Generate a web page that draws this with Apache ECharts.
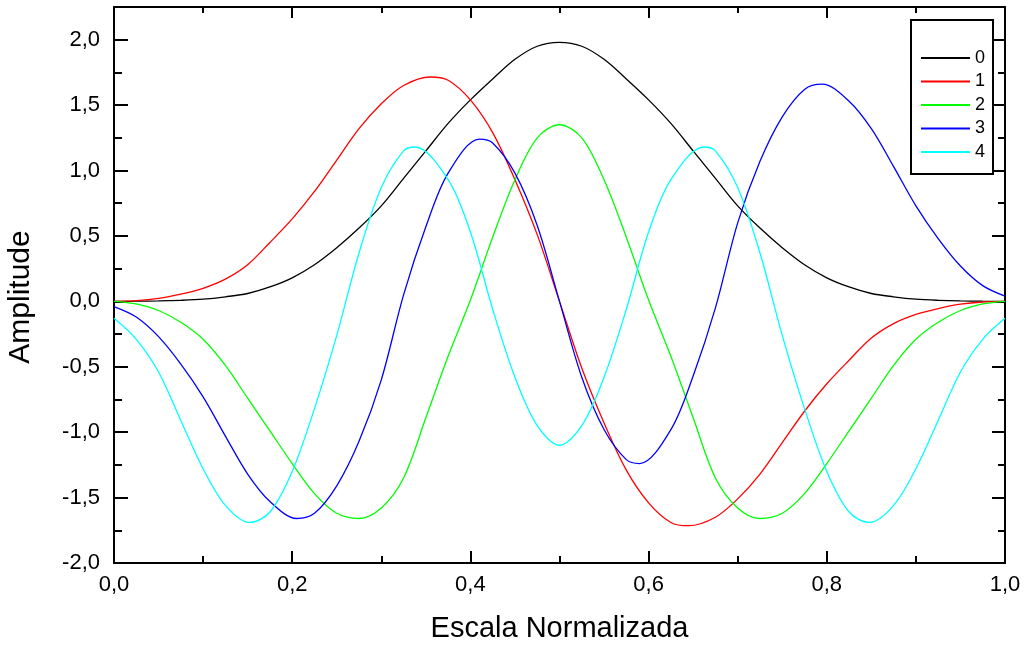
<!DOCTYPE html>
<html>
<head>
<meta charset="utf-8">
<title>Amplitude x Escala Normalizada</title>
<script src="https://cdn.jsdelivr.net/npm/echarts@6/dist/echarts.min.js"></script>
<style>
    html, body { margin: 0; padding: 0; background: #fff; }
    #grafico { width: 1024px; height: 646px; }
</style>
</head>
<body>
<div id="grafico"></div>
<script>
// escala normalizada (passo 0,025); as curvas 1, 3 e 4 trazem os picos lidos no lugar do ponto vizinho
const escala = [0, 0.025, 0.05, 0.075, 0.1, 0.125, 0.15, 0.175, 0.2, 0.225, 0.25, 0.275, 0.3, 0.325, 0.35, 0.375, 0.4, 0.425, 0.45, 0.475, 0.5,
    0.525, 0.55, 0.575, 0.6, 0.625, 0.65, 0.675, 0.7, 0.725, 0.75, 0.775, 0.8, 0.825, 0.85, 0.875, 0.9, 0.925, 0.95, 0.975, 1];
const escala1 = [0, 0.025, 0.05, 0.075, 0.1, 0.125, 0.15, 0.175, 0.2, 0.225, 0.25, 0.275, 0.3, 0.325, 0.355, 0.375, 0.4, 0.425, 0.45, 0.475, 0.5,
    0.525, 0.55, 0.575, 0.6, 0.625, 0.645, 0.675, 0.7, 0.725, 0.75, 0.775, 0.8, 0.825, 0.85, 0.875, 0.9, 0.925, 0.95, 0.975, 1];
const escala3 = [0, 0.025, 0.05, 0.075, 0.1, 0.125, 0.15, 0.175, 0.205, 0.225, 0.25, 0.275, 0.3, 0.325, 0.35, 0.375, 0.41, 0.425, 0.45, 0.475, 0.5,
    0.525, 0.55, 0.575, 0.59, 0.625, 0.65, 0.675, 0.7, 0.725, 0.75, 0.775, 0.795, 0.825, 0.85, 0.875, 0.9, 0.925, 0.95, 0.975, 1];
const escala4 = [0, 0.025, 0.05, 0.075, 0.1, 0.125, 0.152, 0.175, 0.2, 0.225, 0.25, 0.275, 0.3, 0.325, 0.338, 0.375, 0.4, 0.425, 0.45, 0.475, 0.5,
    0.525, 0.55, 0.575, 0.6, 0.625, 0.662, 0.675, 0.7, 0.725, 0.75, 0.775, 0.8, 0.825, 0.848, 0.875, 0.9, 0.925, 0.95, 0.975, 1];

const nomes = ["0", "1", "2", "3", "4"];

// amplitudes
const amp0 = [0, 0.001, 0.003, 0.008, 0.017, 0.035, 0.06, 0.11, 0.18, 0.28, 0.41, 0.56, 0.73, 0.94, 1.15, 1.36, 1.54, 1.70, 1.85, 1.95, 1.98,
    1.95, 1.85, 1.70, 1.54, 1.36, 1.15, 0.94, 0.73, 0.56, 0.41, 0.28, 0.18, 0.11, 0.06, 0.035, 0.017, 0.008, 0.003, 0.001, 0];
const amp1 = [0, 0.005, 0.022, 0.055, 0.10, 0.17, 0.28, 0.45, 0.63, 0.84, 1.08, 1.32, 1.51, 1.65, 1.715, 1.69, 1.54, 1.29, 0.93, 0.51, 0,
    -0.51, -0.93, -1.29, -1.54, -1.69, -1.715, -1.65, -1.51, -1.32, -1.08, -0.84, -0.63, -0.45, -0.28, -0.17, -0.10, -0.055, -0.022, -0.005, 0];
const amp2 = [0, -0.02, -0.07, -0.16, -0.29, -0.49, -0.74, -0.99, -1.24, -1.47, -1.62, -1.66, -1.58, -1.35, -0.89, -0.42, 0.01, 0.49, 0.93, 1.25, 1.35,
    1.25, 0.93, 0.49, 0.01, -0.42, -0.89, -1.35, -1.58, -1.66, -1.62, -1.47, -1.24, -0.99, -0.74, -0.49, -0.29, -0.16, -0.07, -0.02, 0];
const amp3 = [-0.04, -0.12, -0.27, -0.48, -0.73, -1.03, -1.32, -1.53, -1.66, -1.62, -1.41, -1.07, -0.60, 0.05, 0.57, 0.98, 1.24, 1.21, 0.98, 0.58, 0,
    -0.58, -0.98, -1.21, -1.24, -0.98, -0.57, -0.05, 0.60, 1.07, 1.41, 1.62, 1.66, 1.53, 1.32, 1.03, 0.73, 0.48, 0.27, 0.12, 0.04];
const amp4 = [-0.13, -0.29, -0.54, -0.91, -1.28, -1.56, -1.69, -1.61, -1.30, -0.82, -0.26, 0.37, 0.87, 1.15, 1.18, 0.93, 0.53, -0.06, -0.58, -0.95, -1.10,
    -0.95, -0.58, -0.06, 0.53, 0.93, 1.18, 1.15, 0.87, 0.37, -0.26, -0.82, -1.30, -1.61, -1.69, -1.56, -1.28, -0.91, -0.54, -0.29, -0.13];

const curvas = [
    [escala, amp0],
    [escala1, amp1],
    [escala, amp2],
    [escala3, amp3],
    [escala4, amp4],
];

const cores = ["#000000", "#ff0000", "#00ff00", "#0000ff", "#00ffff"];
const fonte = "Liberation Sans, Arial, sans-serif";

const virgula = (v) => v.toFixed(1).replace(".", ",");
const traco = { color: "#000", width: 2 };

// eixo com tracos internos; rotulos so no eixo principal
function eixo(grid, pos, min, max, passo, comp, linha, extra) {
    return Object.assign({
        type: "value",
        gridIndex: grid,
        position: pos,
        min: min,
        max: max,
        interval: passo,
        axisLine: { show: linha, onZero: false, lineStyle: traco },
        axisTick: { show: true, inside: true, length: comp, lineStyle: traco },
        axisLabel: { show: false },
        splitLine: { show: false },
    }, extra || {});
}

const chart = echarts.init(document.getElementById("grafico"));

const option = {
    backgroundColor: "#fff",
    animation: false,
    grid: [
        { left: 114, right: 19, top: 7, bottom: 83, outerBoundsMode: "none" },
        { left: 114, right: 19, top: 7, bottom: 83, outerBoundsMode: "none" },
    ],
    legend: {
        orient: "vertical",
        left: 911,
        top: 20,
        data: nomes,
        itemWidth: 49,
        itemHeight: 14,
        itemGap: 5.5,
        padding: [29, 8, 13, 9],
        backgroundColor: "#fff",
        borderColor: "#000",
        borderWidth: 2,
        borderRadius: 0,
        selectedMode: false,
        itemStyle: { opacity: 0 },
        textStyle: { fontSize: 18, color: "#000", fontFamily: fonte },
    },
    xAxis: [
        eixo(0, "bottom", 0, 1, 0.2, 12, true, {
            axisLabel: { show: true, formatter: virgula, fontSize: 22, color: "#000", margin: 11, fontFamily: fonte },
            name: "Escala Normalizada",
            nameLocation: "middle",
            nameGap: 51,
            nameTextStyle: { fontSize: 29, color: "#000", fontFamily: fonte },
        }),
        eixo(0, "top", 0, 1, 0.2, 11, true),
        eixo(1, "bottom", 0, 1, 0.1, 7, false),
        eixo(1, "top", 0, 1, 0.1, 6, false),
    ],
    yAxis: [
        eixo(0, "left", -2, 2.25, 0.5, 14, true, {
            axisLabel: {
                show: true,
                formatter: (v) => (v > 2.01 ? "" : virgula(v)),
                fontSize: 22, color: "#000", margin: 14, fontFamily: fonte,
            },
            name: "Amplitude",
            nameLocation: "middle",
            nameRotate: 90,
            nameGap: 78,
            nameTextStyle: { fontSize: 30, color: "#000", fontFamily: fonte, padding: [0, 24, 0, 0] },
        }),
        eixo(0, "right", -2, 2.25, 0.5, 13, true),
        eixo(1, "left", -2, 2.25, 0.25, 8, false),
        eixo(1, "right", -2, 2.25, 0.25, 7, false),
    ],
    series: curvas.map(([xs, amp], i) => ({
        name: nomes[i],
        type: "line",
        xAxisIndex: 0,
        yAxisIndex: 0,
        symbol: "none",
        smooth: 0.33,
        color: cores[i],
        lineStyle: { color: cores[i], width: 1.3 },
        data: xs.map((x, k) => [x, amp[k]]),
    })),
};

chart.setOption(option);
</script>
</body>
</html>
